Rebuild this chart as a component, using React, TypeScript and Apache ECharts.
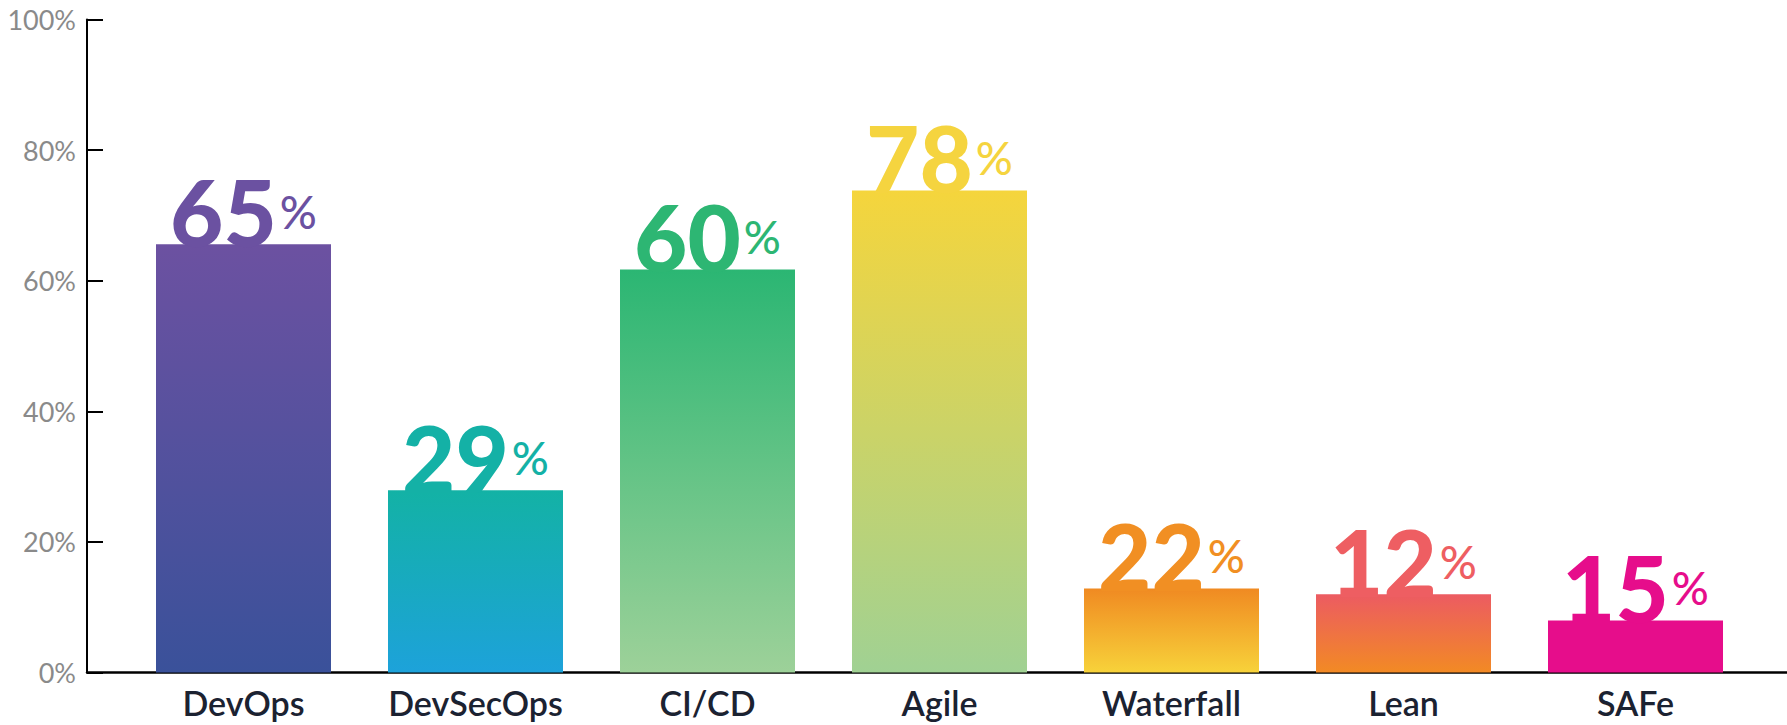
import React, { useEffect, useRef } from "react";
import * as echarts from "echarts";

const categories = ["DevOps", "DevSecOps", "CI/CD", "Agile", "Waterfall", "Lean", "SAFe"];
// bar heights as drawn (percent of axis)
const barValues = [65.6, 27.9, 61.7, 73.8, 12.85, 12.0, 7.96];
// printed labels
const labelValues = [65, 29, 60, 78, 22, 12, 15];
const topColors = ["#6C51A1", "#13B2A5", "#2BB673", "#F5D53C", "#F08A22", "#EC5B62", "#E60D8B"];
const bottomColors = ["#3A519A", "#1DA2DA", "#9DD199", "#A0D193", "#F7D23A", "#F28A24", "#E60D8B"];
const labelColors = ["#6B51A1", "#14B1A6", "#2DB673", "#F5D43F", "#F18F23", "#EE5E62", "#E60D8B"];
const yTicks = [0, 20, 40, 60, 80, 100];

const FONT = "Lato";

export default function App() {
  const ref = useRef<HTMLDivElement>(null);
  useEffect(() => {
    if (!ref.current) return;
    const chart = echarts.init(ref.current, null, { renderer: "svg" });
    const data = barValues.map((v, i) => ({
      value: v,
      itemStyle: {
        color: new echarts.graphic.LinearGradient(0, 0, 0, 1, [
          { offset: 0, color: topColors[i] },
          { offset: 1, color: bottomColors[i] },
        ]),
      },
      label: {
        formatter: `{n|${labelValues[i]}}{p|%}`,
        rich: {
          n: {
            fontFamily: FONT,
            fontSize: 92,
            fontWeight: 900,
            lineHeight: 92,
            color: labelColors[i],
          },
          p: {
            fontFamily: FONT,
            fontSize: 46,
            fontWeight: 500,
            color: labelColors[i],
            padding: [0, 0, 0, 3],
          },
        },
      },
    }));
    const top = 19.5;
    const bottom = 52.5;
    chart.setOption({
      animation: false,
      grid: [
        { left: 127.5, right: 35.5, top, bottom, containLabel: false },
        { left: 87, right: 0, top, bottom, containLabel: false },
      ],
      xAxis: [
        {
          type: "category",
          gridIndex: 0,
          data: categories,
          axisLine: { show: false },
          axisTick: { show: false },
          axisLabel: {
            interval: 0,
            fontFamily: FONT,
            fontSize: 34,
            fontWeight: 600,
            color: "#1B2231",
            margin: 13,
          },
        },
        {
          type: "value",
          gridIndex: 1,
          min: 0,
          max: 1,
          axisLine: { show: true, lineStyle: { color: "#000", width: 2.5 } },
          axisTick: { show: false },
          axisLabel: { show: false },
          splitLine: { show: false },
        },
      ],
      yAxis: [
        {
          type: "value",
          gridIndex: 0,
          min: 0,
          max: 100,
          interval: 20,
          show: false,
          splitLine: { show: false },
        },
        {
          type: "value",
          gridIndex: 1,
          min: yTicks[0],
          max: yTicks[yTicks.length - 1],
          interval: 20,
          axisLine: { show: true, lineStyle: { color: "#000", width: 2 } },
          axisTick: { show: true, inside: true, length: 16, lineStyle: { color: "#000", width: 2 } },
          axisLabel: {
            formatter: "{value}%",
            fontFamily: FONT,
            fontSize: 27,
            color: "#8A8A8A",
            margin: 11,
          },
          splitLine: { show: false },
        },
      ],
      series: [
        {
          type: "bar",
          xAxisIndex: 0,
          yAxisIndex: 0,
          barWidth: 175,
          data,
          label: { show: true, position: "top", distance: -13 },
        },
      ],
    });
    return () => chart.dispose();
  }, []);
  return (
    <div
      ref={ref}
      style={{ position: "fixed", left: 0, top: 0, width: 1787, height: 725, background: "#fff" }}
    />
  );
}
